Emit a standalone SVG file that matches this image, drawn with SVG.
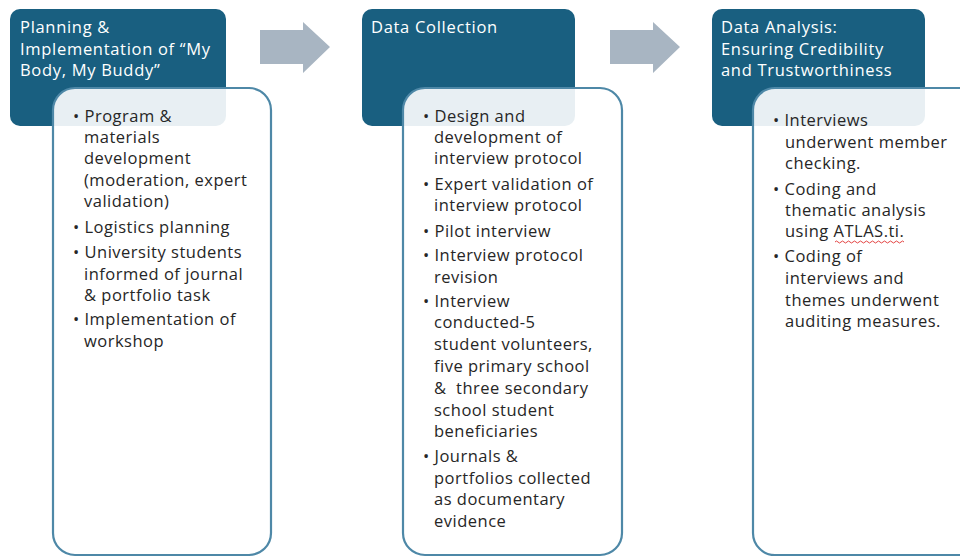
<svg xmlns="http://www.w3.org/2000/svg" width="960" height="558" viewBox="0 0 960 558">
<style>
.hdr{fill:#195F80;}
.card{fill:#ffffff;fill-opacity:0.9;stroke:#4E88A7;stroke-width:2.2;}
.ht{font-family:"Open Sans","Liberation Sans",sans-serif;font-size:16.5px;letter-spacing:0.7px;fill:#ffffff;}
.bt{font-family:"Open Sans","Liberation Sans",sans-serif;font-size:16.5px;letter-spacing:0.5px;fill:#262626;}
.arw{fill:#A8B5C2;}
</style>
<rect width="960" height="558" fill="#ffffff"/>
<g id="connectors">
<polygon class="arw" points="260,30 303,30 303,22 330,47 303,73 303,64 260,64"/>
<polygon class="arw" points="610,30 653,30 653,22 680,47 653,73 653,64 610,64"/>
</g>
<g id="node-planning">
<rect class="hdr" x="10" y="9" width="216" height="117" rx="10"/>
<text class="ht" x="20" y="33">Planning &amp;</text>
<text class="ht" x="20" y="55">Implementation of “My</text>
<text class="ht" x="20" y="76">Body, My Buddy”</text>
<rect class="card" x="53" y="88" width="218" height="467" rx="22"/>
<g class="bt">
<text x="73" y="122">• Program &amp;</text>
<text x="84" y="143">materials</text>
<text x="84" y="164">development</text>
<text x="84" y="186">(moderation, expert</text>
<text x="84" y="207">validation)</text>
<text x="73" y="233">• Logistics planning</text>
<text x="73" y="258">• University students</text>
<text x="84" y="280">informed of journal</text>
<text x="84" y="301">&amp; portfolio task</text>
<text x="73" y="325">• Implementation of</text>
<text x="84" y="347">workshop</text>
</g>
</g>
<g id="node-collection">
<rect class="hdr" x="362" y="9" width="213" height="117" rx="10"/>
<text class="ht" x="371" y="33">Data Collection</text>
<rect class="card" x="403" y="88" width="219" height="467" rx="22"/>
<g class="bt">
<text x="423" y="122">• Design and</text>
<text x="434" y="143">development of</text>
<text x="434" y="164">interview protocol</text>
<text x="423" y="190">• Expert validation of</text>
<text x="434" y="211">interview protocol</text>
<text x="423" y="237">• Pilot interview</text>
<text x="423" y="261">• Interview protocol</text>
<text x="434" y="283">revision</text>
<text x="423" y="307">• Interview</text>
<text x="434" y="328">conducted-5</text>
<text x="434" y="350">student volunteers,</text>
<text x="434" y="372">five primary school</text>
<text x="434" y="394" xml:space="preserve">&amp;  three secondary</text>
<text x="434" y="416">school student</text>
<text x="434" y="437">beneficiaries</text>
<text x="423" y="462">• Journals &amp;</text>
<text x="434" y="484">portfolios collected</text>
<text x="434" y="505">as documentary</text>
<text x="434" y="527">evidence</text>
</g>
</g>
<g id="node-analysis">
<rect class="hdr" x="712" y="9" width="213" height="117" rx="10"/>
<text class="ht" x="721" y="33">Data Analysis:</text>
<text class="ht" x="721" y="55">Ensuring Credibility</text>
<text class="ht" x="721" y="76">and Trustworthiness</text>
<rect class="card" x="753" y="88" width="230" height="467" rx="22"/>
<g class="bt">
<text x="773" y="126">• Interviews</text>
<text x="785" y="148">underwent member</text>
<text x="785" y="169">checking.</text>
<text x="773" y="195">• Coding and</text>
<text x="785" y="216">thematic analysis</text>
<text x="785" y="237">using ATLAS.ti.</text>
<text x="773" y="262">• Coding of</text>
<text x="785" y="284">interviews and</text>
<text x="785" y="306">themes underwent</text>
<text x="785" y="327">auditing measures.</text>
</g>
<path d="M835,242 q1.5,-2 3,0 t3,0 t3,0 t3,0 t3,0 t3,0 t3,0 t3,0 t3,0 t3,0 t3,0 t3,0 t3,0 t3,0 t3,0 t3,0 t3,0 t3,0 t3,0 t3,0 t3,0 t3,0 t3,0" fill="none" stroke="#E0302E" stroke-width="0.9"/>
</g>
</svg>
